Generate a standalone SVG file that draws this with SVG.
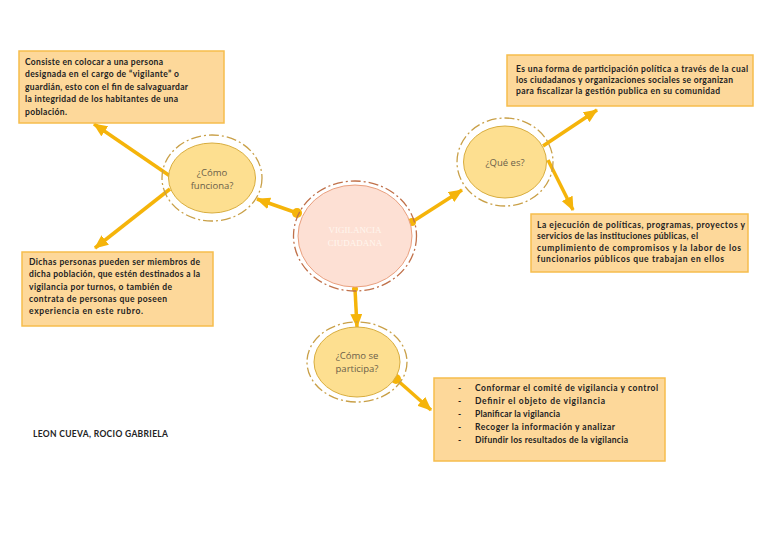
<svg xmlns="http://www.w3.org/2000/svg" width="768" height="543" viewBox="0 0 768 543">
<defs>
<marker id="ah" markerUnits="userSpaceOnUse" markerWidth="14" markerHeight="12" refX="13" refY="6" orient="auto"><path d="M0,0 L14,6 L0,12 Z" fill="#f5b40a"/></marker>
<style>
.box{fill:#fdd89a;stroke:#f6bd4c;stroke-width:1.5}
.t{font-family:Lato,"Liberation Sans",sans-serif;font-weight:bold;font-size:8.5px;fill:#222}
.ring{fill:none;stroke:#c9a048;stroke-width:1.3;stroke-dasharray:10 3 2 3}
.in{fill:#fddf90;stroke:#d8ad3e;stroke-width:1}
.lab{font-family:"Open Sans","Liberation Sans",sans-serif;font-size:9.5px;fill:#6b604a;text-anchor:middle}
.c{stroke:#f5b40a;stroke-width:3.5;fill:none;marker-end:url(#ah)}
.dot{fill:#f5b40a}
</style>
</defs>
<rect width="768" height="543" fill="#fff"/>
<g id="connectors">
<line class="c" x1="297" y1="213" x2="257" y2="199"/>
<circle class="dot" cx="297" cy="213" r="5"/>
<line class="c" x1="412" y1="222" x2="462" y2="190"/>
<circle class="dot" cx="412" cy="222" r="4"/>
<line class="c" x1="355" y1="289" x2="357" y2="327"/>
<circle class="dot" cx="355" cy="289" r="3"/>
<line class="c" x1="396" y1="379" x2="431" y2="410"/>
<circle class="dot" cx="396" cy="379" r="5"/>
<line class="c" x1="170" y1="176" x2="94" y2="124"/>
<line class="c" x1="170" y1="189" x2="95" y2="248"/>
<line class="c" x1="543" y1="146" x2="597" y2="110"/>
<line class="c" x1="548" y1="160" x2="573" y2="210"/>
</g>
<g id="box1">
<rect class="box" x="19" y="51" width="205" height="72"/>
<text class="t" x="25" y="65" textLength="138">Consiste en colocar a una persona</text>
<text class="t" x="25" y="77" textLength="154">designada en el cargo de “vigilante” o</text>
<text class="t" x="25" y="90" textLength="163">guardián, esto con el fin de salvaguardar</text>
<text class="t" x="25" y="102" textLength="153">la integridad de los habitantes de una</text>
<text class="t" x="25" y="115" textLength="42">población.</text>
</g>
<g id="box2">
<rect class="box" x="22" y="252" width="191" height="74"/>
<text class="t" x="29" y="265" textLength="171">Dichas personas pueden ser miembros de</text>
<text class="t" x="29" y="277" textLength="171">dicha población, que estén destinados a la</text>
<text class="t" x="29" y="290" textLength="143">vigilancia por turnos, o también de</text>
<text class="t" x="29" y="302" textLength="138">contrata de personas que poseen</text>
<text class="t" x="29" y="314" textLength="114">experiencia en este rubro.</text>
</g>
<g id="box3">
<rect class="box" x="507" y="55" width="246" height="51"/>
<text class="t" x="516" y="72" textLength="232">Es una forma de participación política a través de la cual</text>
<text class="t" x="516" y="83" textLength="217">los ciudadanos y organizaciones sociales se organizan</text>
<text class="t" x="516" y="94" textLength="204">para fiscalizar la gestión publica en su comunidad</text>
</g>
<g id="box4">
<rect class="box" x="531" y="214" width="217" height="58"/>
<text class="t" x="537" y="228" textLength="208">La ejecución de políticas, programas, proyectos y</text>
<text class="t" x="537" y="239" textLength="161">servicios de las instituciones públicas, el</text>
<text class="t" x="537" y="251" textLength="204">cumplimiento de compromisos y la labor de los</text>
<text class="t" x="537" y="262" textLength="187">funcionarios públicos que trabajan en ellos</text>
</g>
<g id="box5">
<rect class="box" x="434" y="378" width="231" height="83"/>
<text class="t" x="458" y="391">-</text><text class="t" x="475" y="391" textLength="183">Conformar el comité de vigilancia y control</text>
<text class="t" x="458" y="404">-</text><text class="t" x="475" y="404" textLength="130">Definir el objeto de vigilancia</text>
<text class="t" x="458" y="417">-</text><text class="t" x="475" y="417" textLength="85">Planificar la vigilancia</text>
<text class="t" x="458" y="430">-</text><text class="t" x="475" y="430" textLength="140">Recoger la información y analizar</text>
<text class="t" x="458" y="443">-</text><text class="t" x="475" y="443" textLength="153">Difundir los resultados de la vigilancia</text>
</g>
<g id="central">
<ellipse cx="355" cy="236" rx="61.5" ry="55" fill="none" stroke="#c0714a" stroke-width="1.3" stroke-dasharray="10 3 2 3"/>
<ellipse cx="355" cy="236" rx="57" ry="51" fill="#fde0d4" stroke="#e9a07f" stroke-width="1"/>
<text x="355" y="233" text-anchor="middle" font-family="'Liberation Serif',serif" font-size="9px" fill="#fff6ee">VIGILANCIA</text>
<text x="355" y="246" text-anchor="middle" font-family="'Liberation Serif',serif" font-size="9px" fill="#fff6ee">CIUDADANA</text>
</g>
<g id="funciona">
<ellipse class="ring" cx="212" cy="178" rx="50" ry="43"/>
<ellipse class="in" cx="212" cy="178" rx="43.5" ry="35"/>
<text class="lab" x="212" y="176">¿Cómo</text>
<text class="lab" x="212" y="189">funciona?</text>
</g>
<g id="quees">
<ellipse class="ring" cx="505" cy="162" rx="48" ry="44"/>
<ellipse class="in" cx="505" cy="162" rx="41.5" ry="36"/>
<text class="lab" x="505" y="166">¿Qué es?</text>
</g>
<g id="participa">
<ellipse class="ring" cx="357" cy="362" rx="50" ry="40"/>
<ellipse class="in" cx="357" cy="362" rx="43" ry="35"/>
<text class="lab" x="357" y="359">¿Cómo se</text>
<text class="lab" x="357" y="372">participa?</text>
</g>
<g id="author">
<text class="t" x="33" y="437" textLength="135">LEON CUEVA, ROCIO GABRIELA</text>
</g>
</svg>
